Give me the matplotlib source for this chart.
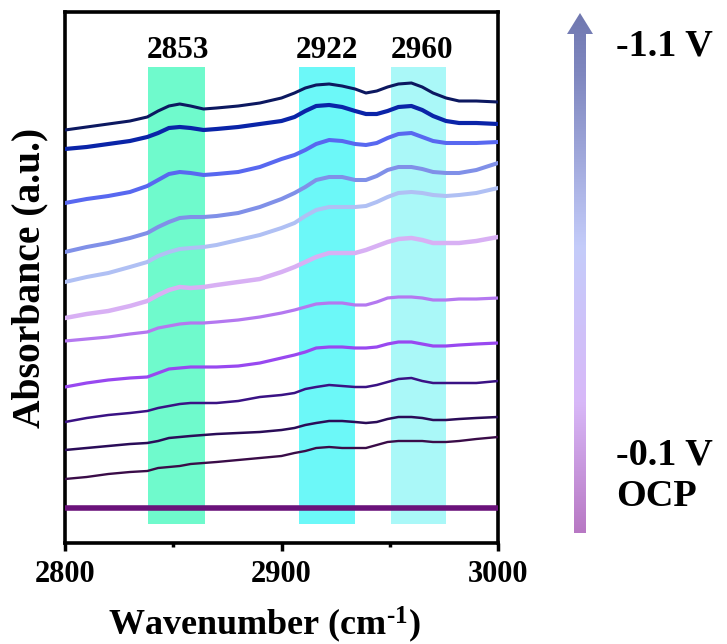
import numpy as np
import matplotlib
matplotlib.use('Agg')
import matplotlib.pyplot as plt
from matplotlib.colors import LinearSegmentedColormap
from matplotlib.patches import Polygon

plt.rcParams['font.family'] = ['Liberation Serif', 'DejaVu Serif']
plt.rcParams['font.weight'] = 'bold'
plt.rcParams['mathtext.fontset'] = 'custom'
plt.rcParams['mathtext.rm'] = 'Liberation Serif:bold'
plt.rcParams['mathtext.it'] = 'Liberation Serif:bold'
plt.rcParams['mathtext.bf'] = 'Liberation Serif:bold'

# wavenumber grid (cm-1)
wn = [2800, 2810, 2820, 2830, 2838, 2843, 2848, 2853, 2858, 2864, 2870,
      2880, 2890, 2900, 2906, 2911, 2916, 2922, 2928, 2934, 2939, 2944,
      2949, 2954, 2960, 2965, 2970, 2976, 2982, 2990, 3000]

# absorbance traces (a.u., offset), top = -1.1 V ... bottom = OCP
s1 = [4.13, 4.16, 4.19, 4.22, 4.26, 4.32, 4.37, 4.39, 4.37, 4.34, 4.35,
      4.37, 4.40, 4.45, 4.50, 4.55, 4.58, 4.59, 4.57, 4.54, 4.50, 4.52,
      4.56, 4.59, 4.60, 4.56, 4.50, 4.45, 4.42, 4.42, 4.41]
s2 = [3.94, 3.96, 3.99, 4.02, 4.06, 4.10, 4.15, 4.16, 4.15, 4.13, 4.14,
      4.16, 4.19, 4.22, 4.26, 4.32, 4.37, 4.38, 4.36, 4.32, 4.29, 4.29,
      4.32, 4.36, 4.37, 4.33, 4.27, 4.22, 4.20, 4.20, 4.19]
s3 = [3.40, 3.44, 3.47, 3.51, 3.57, 3.63, 3.69, 3.71, 3.70, 3.68, 3.69,
      3.71, 3.76, 3.84, 3.88, 3.93, 3.99, 4.03, 4.02, 3.99, 3.98, 4.00,
      4.05, 4.09, 4.10, 4.06, 4.02, 4.00, 4.00, 4.00, 4.01]
s4 = [2.91, 2.96, 3.00, 3.05, 3.10, 3.16, 3.21, 3.25, 3.26, 3.26, 3.27,
      3.30, 3.36, 3.44, 3.50, 3.56, 3.63, 3.66, 3.66, 3.63, 3.63, 3.67,
      3.73, 3.76, 3.76, 3.74, 3.71, 3.70, 3.70, 3.73, 3.80]
s5 = [2.61, 2.66, 2.70, 2.76, 2.81, 2.87, 2.91, 2.94, 2.95, 2.96, 2.98,
      3.03, 3.08, 3.15, 3.20, 3.27, 3.33, 3.36, 3.36, 3.36, 3.37, 3.41,
      3.46, 3.50, 3.51, 3.50, 3.48, 3.47, 3.48, 3.50, 3.55]
s6 = [2.25, 2.29, 2.32, 2.37, 2.42, 2.48, 2.53, 2.56, 2.55, 2.56, 2.58,
      2.61, 2.64, 2.71, 2.76, 2.81, 2.86, 2.90, 2.90, 2.90, 2.93, 2.97,
      3.01, 3.04, 3.05, 3.03, 3.00, 3.00, 3.00, 3.02, 3.06]
s7 = [2.02, 2.04, 2.06, 2.09, 2.11, 2.15, 2.17, 2.19, 2.20, 2.20, 2.21,
      2.23, 2.26, 2.30, 2.33, 2.36, 2.39, 2.40, 2.40, 2.38, 2.38, 2.41,
      2.45, 2.46, 2.46, 2.45, 2.43, 2.43, 2.44, 2.44, 2.45]
s8 = [1.56, 1.60, 1.63, 1.65, 1.66, 1.70, 1.74, 1.75, 1.76, 1.76, 1.76,
      1.77, 1.80, 1.85, 1.88, 1.91, 1.95, 1.96, 1.96, 1.95, 1.95, 1.96,
      1.99, 2.01, 2.01, 1.99, 1.97, 1.97, 1.98, 1.99, 2.00]
s9 = [1.21, 1.25, 1.28, 1.30, 1.32, 1.35, 1.37, 1.39, 1.40, 1.40, 1.40,
      1.42, 1.46, 1.48, 1.50, 1.54, 1.56, 1.58, 1.57, 1.56, 1.56, 1.58,
      1.61, 1.64, 1.65, 1.62, 1.60, 1.60, 1.60, 1.60, 1.62]
s10 = [0.93, 0.95, 0.97, 0.99, 1.00, 1.02, 1.05, 1.06, 1.07, 1.08, 1.09,
       1.10, 1.11, 1.13, 1.15, 1.18, 1.20, 1.22, 1.22, 1.21, 1.20, 1.21,
       1.24, 1.26, 1.26, 1.25, 1.23, 1.23, 1.24, 1.25, 1.26]
s11 = [0.64, 0.66, 0.69, 0.71, 0.72, 0.75, 0.76, 0.77, 0.79, 0.80, 0.81,
       0.83, 0.85, 0.87, 0.90, 0.92, 0.95, 0.96, 0.95, 0.95, 0.95, 0.98,
       1.01, 1.02, 1.02, 1.02, 1.01, 1.01, 1.02, 1.04, 1.06]
s_ocp = [0.35] * len(wn)

series = [s1, s2, s3, s4, s5, s6, s7, s8, s9, s10, s11, s_ocp]
colors = ['#0c1860', '#0a24a8', '#5868f0', '#8090e8', '#b0c0f4', '#d8b0f4',
          '#b478f0', '#9848f0', '#3a1284', '#2a0c58', '#3a0c48', '#6a127a']
widths = [2.2, 3.0, 2.9, 2.9, 2.9, 3.2, 2.3, 2.3, 1.8, 1.8, 1.7, 4.0]

# shaded peak regions
bands = [(2838.5, 2864.5), (2908, 2934), (2950.5, 2976)]
band_colors = ['#6ffacc', '#6cf8f8', '#aaf8f8']
peak_pos = [2852, 2921, 2965]
peak_txt = ['2853', '2922', '2960']

fig = plt.figure(figsize=(7.27, 6.44), dpi=100)
ax = fig.add_axes([65 / 727, 101 / 644, 433 / 727, 531 / 644])

for (a, b), c in zip(bands, band_colors):
    ax.fill_between([a, b], 0.19, 4.76, color=c, lw=0, zorder=1)

for s, c, w in zip(series, colors, widths):
    ax.plot(wn, s, color=c, lw=w, zorder=3, solid_joinstyle='round')

for p, t in zip(peak_pos, peak_txt):
    ax.text(p, 4.93, t, ha='center', va='center', fontsize=22.5, fontweight='bold')

ax.set_xlim(2800, 3000)
ax.set_ylim(0, 5.31)
ax.set_xticks([2800, 2900, 3000])
ax.set_xticks([2850, 2950], minor=True)
ax.set_yticks([])
ax.tick_params(axis='x', which='major', direction='out', length=6, width=2.5,
               labelsize=22, pad=6)
ax.tick_params(axis='x', which='minor', direction='out', length=3, width=2.5)
for lab in ax.get_xticklabels():
    lab.set_fontweight('bold')
for sp in ax.spines.values():
    sp.set_linewidth(2.6)

ax.set_xlabel(r'Wavenumber (cm$^{\text{-1}}$)', fontsize=26, fontweight='bold')
ax.xaxis.set_label_coords(0.46, -0.115)
ax.set_ylabel('Absorbance (a.u.)', fontsize=28.5, fontweight='bold', labelpad=12)

# gradient arrow for potential direction
ov = fig.add_axes([0, 0, 1, 1], zorder=-1)
ov.set_xlim(0, 727)
ov.set_ylim(644, 0)
ov.axis('off')
cmap = LinearSegmentedColormap.from_list(
    'arrow', [(0.0, '#7078b0'), (0.12, '#8088c0'), (0.45, '#c4ccfa'),
              (0.75, '#d8b8f8'), (1.0, '#b878c4')])
grad = np.linspace(0, 1, 256).reshape(-1, 1)
im = ov.imshow(grad, cmap=cmap, aspect='auto', extent=[566, 593, 533, 13])
arrow = Polygon([(574, 533), (586, 533), (586, 34), (593, 34), (580, 13),
                 (567, 34), (574, 34)], closed=True, fc='none', ec='none')
ov.add_patch(arrow)
im.set_clip_path(arrow)

fig.text(616 / 727, 1 - 46 / 644, '-1.1 V', fontsize=27.5, fontweight='bold', va='center')
fig.text(616 / 727, 1 - 455 / 644, '-0.1 V', fontsize=27.5, fontweight='bold', va='center')
fig.text(616 / 727, 1 - 497 / 644, 'OCP', fontsize=27.5, fontweight='bold', va='center')

fig.savefig('out.png', dpi=100)
